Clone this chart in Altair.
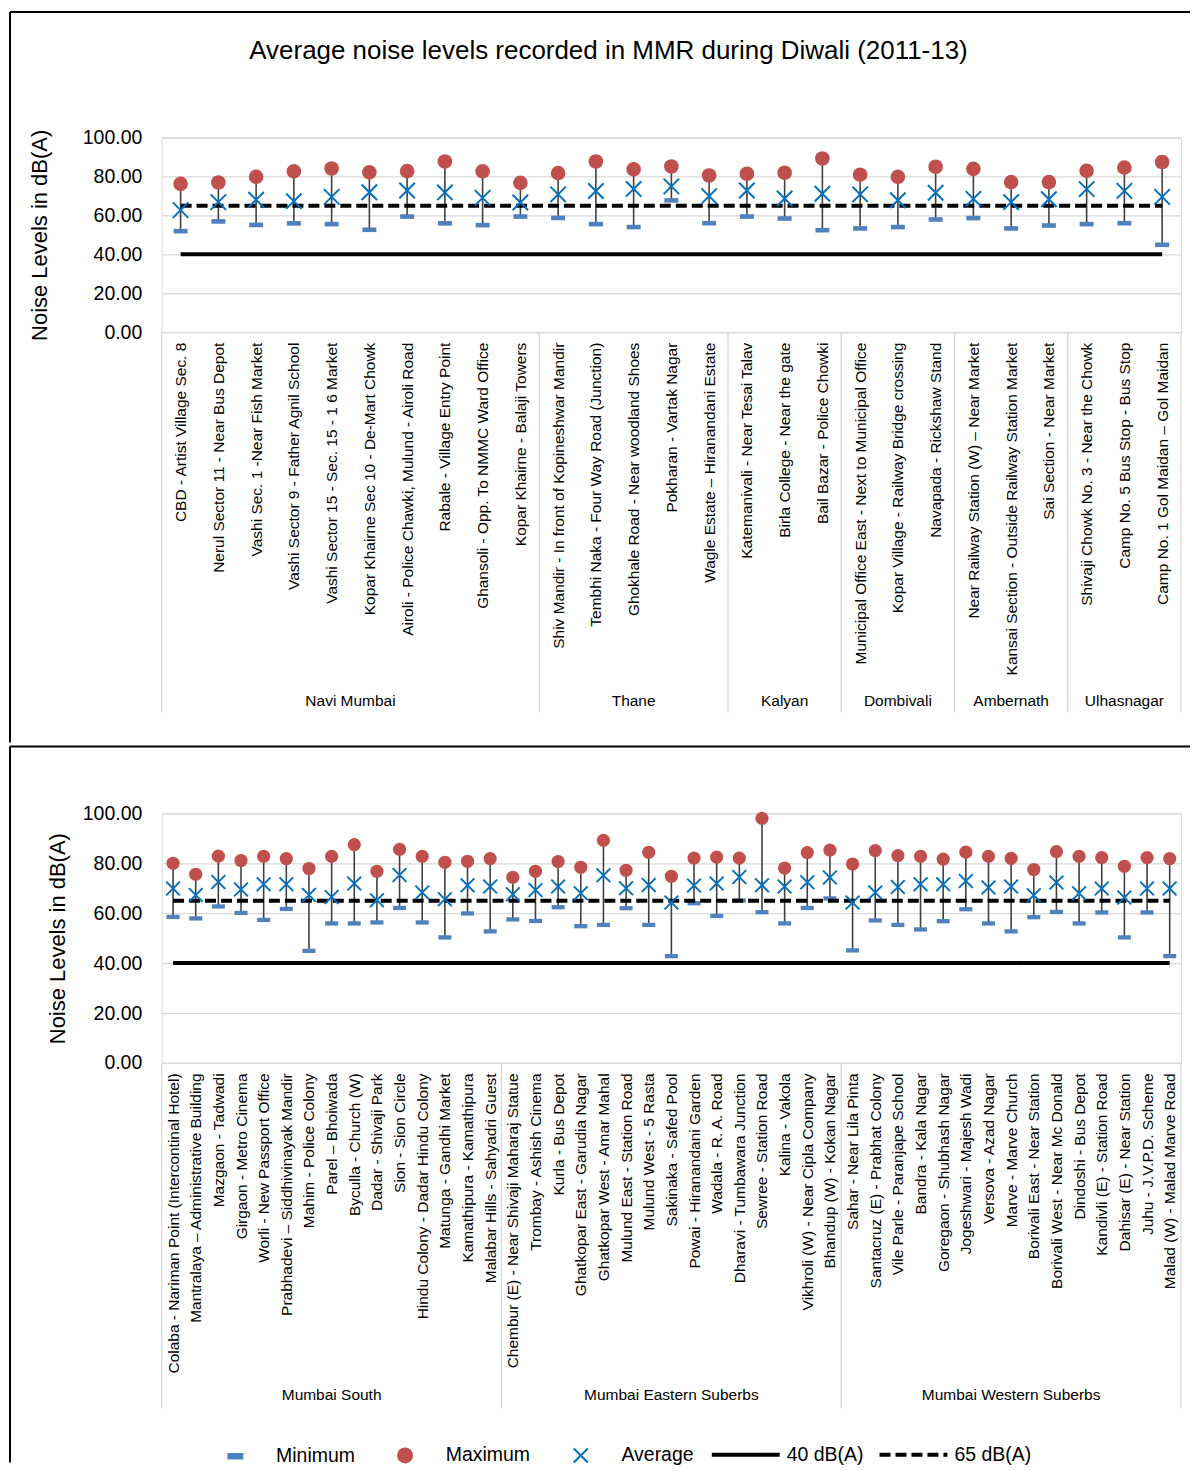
import json
from itertools import accumulate
import altair as alt
import pandas as pd

FONT = "Liberation Sans"

title_text = "Average noise levels recorded in MMR during Diwali (2011-13)"
y_title = "Noise Levels in dB(A)"

series_names = ["Minimum", "Maximum", "Average"]
series_colors = ["#4f81bd", "#c0504d", "#0070c0"]
series_shapes = ["M-1,-0.33L1,-0.33L1,0.33L-1,0.33Z", "circle", "M-1,-1L1,1M-1,1L1,-1"]
limit_names = ["40 dB(A)", "65 dB(A)"]
limit_values = [40, 65]

# ---------------- top panel data ----------------
top_group_names = ["Navi Mumbai", "Thane", "Kalyan", "Dombivali", "Ambernath", "Ulhasnagar"]
top_group_sizes = [10, 5, 3, 3, 3, 3]
top_sites = [
    "CBD - Artist Village Sec. 8",
    "Nerul Sector 11 - Near Bus Depot",
    "Vashi Sec. 1 -Near Fish Market",
    "Vashi Sector 9 - Father Agnil School",
    "Vashi Sector 15 - Sec. 15 - 1 6 Market",
    "Kopar Khairne Sec 10 - De-Mart Chowk",
    "Airoli - Police Chawki, Mulund - Airoli Road",
    "Rabale - Village Entry Point",
    "Ghansoli - Opp. To NMMC Ward Office",
    "Kopar Khairne - Balaji Towers",
    "Shiv Mandir - In front of Kopineshwar Mandir",
    "Tembhi Naka - Four Way Road (Junction)",
    "Ghokhale Road - Near  woodland Shoes",
    "Pokharan - Vartak Nagar",
    "Wagle Estate \u2013 Hiranandani Estate",
    "Katemanivali - Near Tesai Talav",
    "Birla College - Near the gate",
    "Bail Bazar - Police Chowki",
    "Municipal Office East - Next to Municipal Office",
    "Kopar Village - Railway Bridge  crossing",
    "Navapada - Rickshaw Stand",
    "Near Railway Station (W) \u2013 Near Market",
    "Kansai Section - Outside  Railway Station Market",
    "Sai Section - Near Market",
    "Shivaji Chowk No. 3 - Near the Chowk",
    "Camp No. 5 Bus Stop - Bus Stop",
    "Camp No. 1 Gol Maidan \u2013 Gol Maidan",
]
top_min = [51.9, 56.9, 55.1, 55.9, 55.5, 52.6, 59.4, 55.9, 55.0, 59.4,
           58.7, 55.5, 54.0, 67.7, 56.0,
           59.4, 58.4, 52.4,
           53.3, 54.0, 57.9,
           58.6, 53.3, 54.8,
           55.5, 56.0, 44.9]
top_max = [76.2, 76.9, 79.8, 82.6, 84.1, 82.1, 82.7, 87.7, 82.6, 76.7,
           81.7, 87.7, 83.6, 85.1, 80.5,
           81.4, 81.9, 89.2,
           80.9, 79.8, 85.0,
           83.9, 77.1, 77.1,
           82.9, 84.5, 87.4]
top_avg = [62.7, 66.8, 68.0, 67.3, 69.5, 71.9, 72.8, 71.8, 69.0, 66.6,
           70.8, 72.5, 73.6, 74.9, 69.9,
           72.8, 68.7, 71.1,
           70.8, 67.8, 71.6,
           68.5, 66.8, 68.3,
           73.5, 72.6, 69.5]

# ---------------- bottom panel data ----------------
bot_group_names = ["Mumbai South", "Mumbai Eastern Suberbs", "Mumbai Western Suberbs"]
bot_group_sizes = [15, 15, 15]
bot_sites = [
    "Colaba - Nariman Point (Intercontinal Hotel)",
    "Mantralaya \u2013 Administrative Building",
    "Mazgaon - Tadwadi",
    "Girgaon - Metro Cinema",
    "Worli - New Passport Office",
    "Prabhadevi \u2013 Siddhivinayak Mandir",
    "Mahim - Police Colony",
    "Parel \u2013 Bhoiwada",
    "Byculla - Church (W)",
    "Dadar - Shivaji Park",
    "Sion - Sion Circle",
    "Hindu Colony - Dadar Hindu Colony",
    "Matunga - Gandhi Market",
    "Kamathipura - Kamathipura",
    "Malabar Hills - Sahyadri Guest",
    "Chembur (E) - Near Shivaji Maharaj Statue",
    "Trombay - Ashish Cinema",
    "Kurla - Bus Depot",
    "Ghatkopar East - Garudia Nagar",
    "Ghatkopar West - Amar Mahal",
    "Mulund East - Station Road",
    "Mulund West - 5 Rasta",
    "Sakinaka - Safed Pool",
    "Powai - Hiranandani Garden",
    "Wadala - R. A. Road",
    "Dharavi - Tumbawara Junction",
    "Sewree - Station Road",
    "Kalina - Vakola",
    "Vikhroli (W) - Near Cipla Company",
    "Bhandup (W) - Kokan Nagar",
    "Sahar - Near Lila Pinta",
    "Santacruz (E) - Prabhat Colony",
    "Vile Parle - Paranjape School",
    "Bandra - Kala Nagar",
    "Goregaon - Shubhash Nagar",
    "Jogeshwari - Majesh Wadi",
    "Versova - Azad Nagar",
    "Marve - Marve Church",
    "Borivali East - Near Station",
    "Borivali West - Near Mc Donald",
    "Dindoshi - Bus Depot",
    "Kandivli (E) - Station Road",
    "Dahisar (E) - Near Station",
    "Juhu - J.V.P.D. Scheme",
    "Malad (W) - Malad Marve Road",
]
bot_min = [58.5, 57.9, 62.7, 60.1, 57.3, 61.7, 44.9, 55.9, 55.9, 56.3, 62.1, 56.3, 50.3, 59.9, 52.7,
           57.5, 56.9, 62.4, 54.8, 55.3, 62.0, 55.3, 42.8, 64.0, 58.9, 65.1, 60.4, 55.9, 62.1, 65.9,
           45.1, 57.1, 55.3, 53.5, 56.8, 61.6, 55.9, 52.7, 58.4, 60.5, 55.9, 60.3, 50.3, 60.3, 42.8]
bot_max = [80.0, 75.6, 82.9, 81.1, 82.8, 81.9, 77.9, 82.8, 87.5, 76.8, 85.6, 82.8, 80.4, 80.8, 81.9,
           74.4, 76.8, 80.7, 78.4, 89.2, 77.2, 84.4, 74.8, 82.1, 82.5, 82.1, 98.0, 78.1, 84.3, 85.3,
           79.7, 85.1, 83.1, 82.8, 81.7, 84.5, 82.8, 82.0, 77.5, 84.7, 82.8, 82.3, 78.8, 82.3, 81.9]
bot_avg = [69.9, 67.3, 72.5, 69.5, 71.6, 71.6, 67.3, 66.5, 71.9, 65.2, 75.3, 68.3, 65.6, 71.2, 70.7,
           67.6, 69.3, 70.7, 68.0, 75.2, 70.0, 71.3, 64.3, 71.1, 71.9, 74.5, 71.2, 70.7, 72.4, 74.3,
           64.3, 68.3, 70.5, 71.6, 71.6, 72.9, 70.3, 70.7, 67.2, 72.3, 68.0, 69.9, 66.3, 69.9, 69.9]

# ---------------- layout (page pixels) ----------------
PLOT_L = 161           # left edge of both plot areas
TOP_T = 136.7          # top of upper plot area
BOT_T = 811.7          # top of lower plot area
FRAME_L, FRAME_R = 9, 1191
FRAME_TOP, FRAME_MID, FRAME_BOT = 11, 744.7, 1462

pt_legend = alt.Legend(
    orient="none", legendX=225 - PLOT_L, legendY=1447 - TOP_T,
    direction="horizontal", title=None, labelFont=FONT, labelFontSize=19.5,
    labelColor="black", labelOffset=31, columnPadding=38, symbolSize=196,
    symbolStrokeWidth=2, padding=0,
)
ln_legend = alt.Legend(
    orient="none", legendX=710 - PLOT_L, legendY=1420 - TOP_T,
    direction="horizontal", title=None, labelFont=FONT, labelFontSize=19.5,
    labelColor="black", labelOffset=5, columnPadding=8, symbolType="stroke",
    symbolSize=4624, symbolStrokeWidth=4, symbolStrokeColor="black", padding=0,
)
fill_scale = alt.Scale(domain=series_names, range=series_colors)
shape_scale = alt.Scale(domain=series_names, range=series_shapes)
dash_scale = alt.Scale(domain=limit_names, range=[[1, 0], [11, 5]])


def frame_rule(x, x2, y, y2):
    d = pd.DataFrame({"k": [0]})
    return alt.Chart(d).mark_rule(color="black", strokeWidth=2).encode(
        x=alt.value(x), x2=alt.value(x2), y=alt.value(y), y2=alt.value(y2))


def make_panel(sites, group_names, group_sizes, mins, maxs, avgs,
               plot_t, plot_h, axis_h, group_y, title_pad, sizes, frame, title=None):
    n = len(sites)
    pos = [i + 0.5 for i in range(n)]
    df = pd.DataFrame({"pos": pos, "site": sites, "Minimum": mins,
                       "Maximum": maxs, "Average": avgs})
    long = df.melt(id_vars=["pos", "site"], value_vars=series_names,
                   var_name="series", value_name="value")
    bounds = [0] + list(accumulate(group_sizes))
    sep_df = pd.DataFrame({"b": bounds})
    grp_df = pd.DataFrame({"group": group_names,
                           "mid": [(bounds[i] + bounds[i + 1]) / 2 for i in range(len(group_names))]})
    ref_df = pd.DataFrame({"limit": limit_names, "y": limit_values,
                           "x1": [pos[0]] * 2, "x2": [pos[-1]] * 2})

    xscale = alt.Scale(domain=[0, n], nice=False, zero=False)
    yscale = alt.Scale(domain=[0, 100], nice=False)
    label_expr = "[" + ",".join(json.dumps(s) for s in sites) + "][floor(datum.value)]"
    xaxis = alt.Axis(values=pos, labelExpr=label_expr, labelAngle=270, labelAlign="right",
                     labelBaseline="middle", labelFont=FONT, labelFontSize=15.5,
                     labelColor="black", labelPadding=10, labelLimit=500, labelOverlap=False,
                     labelFlush=False, ticks=False, tickSize=0, grid=False,
                     domainColor="#d9d9d9", domainWidth=1.3, title=None)
    yaxis = alt.Axis(values=[0, 20, 40, 60, 80, 100], format=".2f", title=y_title,
                     titleFont=FONT, titleFontSize=22, titleFontWeight="normal",
                     titleColor="black", titlePadding=title_pad, labelFont=FONT,
                     labelFontSize=19.5, labelColor="black", labelPadding=20,
                     ticks=False, tickSize=0, domain=False, grid=True,
                     gridColor="#d9d9d9", gridWidth=1.3)

    X = lambda f: alt.X(f, scale=xscale, axis=xaxis)
    Y = lambda f: alt.Y(f, scale=yscale, axis=yaxis)

    seps = alt.Chart(sep_df).mark_rule(color="#d9d9d9", strokeWidth=1.3).encode(
        x=X("b:Q"), y=alt.value(plot_h), y2=alt.value(plot_h + axis_h))
    rng = alt.Chart(df).mark_rule(color="#404040", strokeWidth=1.6).encode(
        x=X("pos:Q"), y=Y("Minimum:Q"), y2="Maximum:Q")

    def pts(name, size, sw):
        return alt.Chart(long).transform_filter(alt.datum.series == name).mark_point(
            filled=True, size=size, strokeWidth=sw, opacity=1).encode(
            x=X("pos:Q"), y=Y("value:Q"),
            fill=alt.Fill("series:N", scale=fill_scale, legend=pt_legend),
            stroke=alt.Stroke("series:N", scale=fill_scale, legend=pt_legend),
            shape=alt.Shape("series:N", scale=shape_scale, legend=pt_legend))

    refs = alt.Chart(ref_df).mark_rule(color="black", strokeWidth=4).encode(
        x=X("x1:Q"), x2="x2:Q", y=Y("y:Q"),
        strokeDash=alt.StrokeDash("limit:N", scale=dash_scale, legend=ln_legend))
    grp = alt.Chart(grp_df).mark_text(font=FONT, fontSize=15.5, color="black",
                                      baseline="middle").encode(
        x=X("mid:Q"), y=alt.value(group_y), text="group:N")

    layers = [seps, rng, pts("Minimum", sizes[0], 0), refs,
              pts("Average", sizes[2], 2), pts("Maximum", sizes[1], 0), grp]

    # chart-area border lines (decoration), given in page pixels
    fl, fr = FRAME_L - PLOT_L, FRAME_R - PLOT_L
    (hy, vy1, vy2) = [v - plot_t for v in frame]
    layers.append(frame_rule(fl, fr, hy, hy))
    layers.append(frame_rule(fl, fl, vy1, vy2))

    if title is not None:
        tdf = pd.DataFrame({"t": [title]})
        layers.append(alt.Chart(tdf).mark_text(
            font=FONT, fontSize=26, color="black", align="center", baseline="middle").encode(
            x=alt.value(608.5 - PLOT_L), y=alt.value(50 - plot_t), text="t:N"))

    return alt.layer(*layers).properties(width=1021, height=plot_h)


top = make_panel(top_sites, top_group_names, top_group_sizes, top_min, top_max, top_avg,
                 plot_t=TOP_T, plot_h=195, axis_h=381, group_y=195 + 369, title_pad=31,
                 sizes=(196, 215, 240), frame=(FRAME_TOP, FRAME_TOP, FRAME_MID - 2),
                 title=title_text)
bot = make_panel(bot_sites, bot_group_names, bot_group_sizes, bot_min, bot_max, bot_avg,
                 plot_t=BOT_T, plot_h=250, axis_h=346, group_y=250 + 333, title_pad=13,
                 sizes=(170, 175, 190), frame=(FRAME_MID, FRAME_MID, FRAME_BOT))

chart = alt.vconcat(top, bot, spacing=0).properties(
    padding={"left": 0, "top": 0.5, "right": 0, "bottom": 0},
).configure_view(stroke=None).configure(background="white")

chart.save("out.html", embed_options={"renderer": "svg", "actions": False})
